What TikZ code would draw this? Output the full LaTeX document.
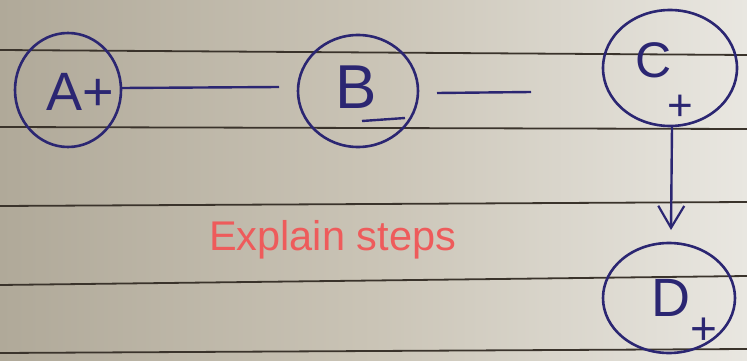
\documentclass[tikz,border=0pt]{standalone}
\usepackage{fontspec}
\setmainfont{Liberation Sans}
\usetikzlibrary{shapes.geometric,arrows.meta}
\definecolor{ink}{HTML}{2B2672}
\definecolor{rule}{HTML}{3A332B}
\definecolor{redtxt}{HTML}{EE5B5B}
\definecolor{paperL}{HTML}{B0A999}
\definecolor{paperM}{HTML}{CAC4B6}
\definecolor{paperR}{HTML}{E9E7E1}
\tikzset{
  circ/.style={draw=ink, line width=2.6pt, ellipse, inner sep=0pt},
  handtxt/.style={text=ink, font=\fontsize{56}{56}\selectfont, inner sep=0pt},
  signtxt/.style={text=ink, font=\fontsize{50}{50}\selectfont, inner sep=0pt},
  conn/.style={draw=ink, line width=2.4pt},
  ruling/.style={draw=rule, line width=1.8pt},
}
\begin{document}
\begin{tikzpicture}[x=1pt,y=-1pt]
\useasboundingbox (0,0) rectangle (747,361);
\shade[left color=paperL, right color=paperR, middle color=paperM] (0,0) rectangle (747,361);
% ruled lines
\draw[ruling] (0,50) -- (747,55);
\draw[ruling] (0,127) -- (747,129);
\draw[ruling] (0,206) -- (747,202);
\draw[ruling] (0,285) -- (747,276);
\draw[ruling] (0,353) -- (747,349);
% circles
\node[circ, minimum width=106pt, minimum height=114pt] (A) at (68,90) {};
\node[circ, minimum width=120pt, minimum height=112pt] (B) at (358,91) {};
\node[circ, minimum width=134pt, minimum height=116pt] (C) at (670,68) {};
\node[circ, minimum width=132pt, minimum height=110pt] (D) at (669,298) {};
% labels
\node[handtxt, font=\fontsize{54}{54}\selectfont] (la) at (80,92) {A+};
\node[handtxt, font=\fontsize{62}{62}\selectfont] (lb) at (356,87) {B};
\draw[conn] (362,121) -- (405,118);
\node[handtxt, font=\fontsize{50}{50}\selectfont] (lc) at (654,60) {C};
\node[signtxt, font=\fontsize{44}{44}\selectfont] (pc) at (680,108) {+};
\node[handtxt, font=\fontsize{54}{54}\selectfont] (ld) at (671,298) {D};
\node[signtxt, font=\fontsize{46}{46}\selectfont] (pd) at (704,331) {+};
% connectors
\coordinate (a1) at (122,88);
\coordinate (b1) at (279,87);
\coordinate (b2) at (437,93);
\coordinate (c1) at (531,92);
\draw[conn] (a1) -- (b1);
\draw[conn] (b2) -- (c1);
\coordinate (c2) at (672,127);
\coordinate (d1) at (671,230);
\draw[conn, -{Straight Barb[length=22pt,width=26pt,line width=2.2pt]}] (c2) -- (d1);
% text
\node[text=redtxt, font=\fontsize{41.5}{41.5}\selectfont, anchor=base west, inner sep=0pt] (ex) at (209,250) {Explain steps};
\end{tikzpicture}
\end{document}
